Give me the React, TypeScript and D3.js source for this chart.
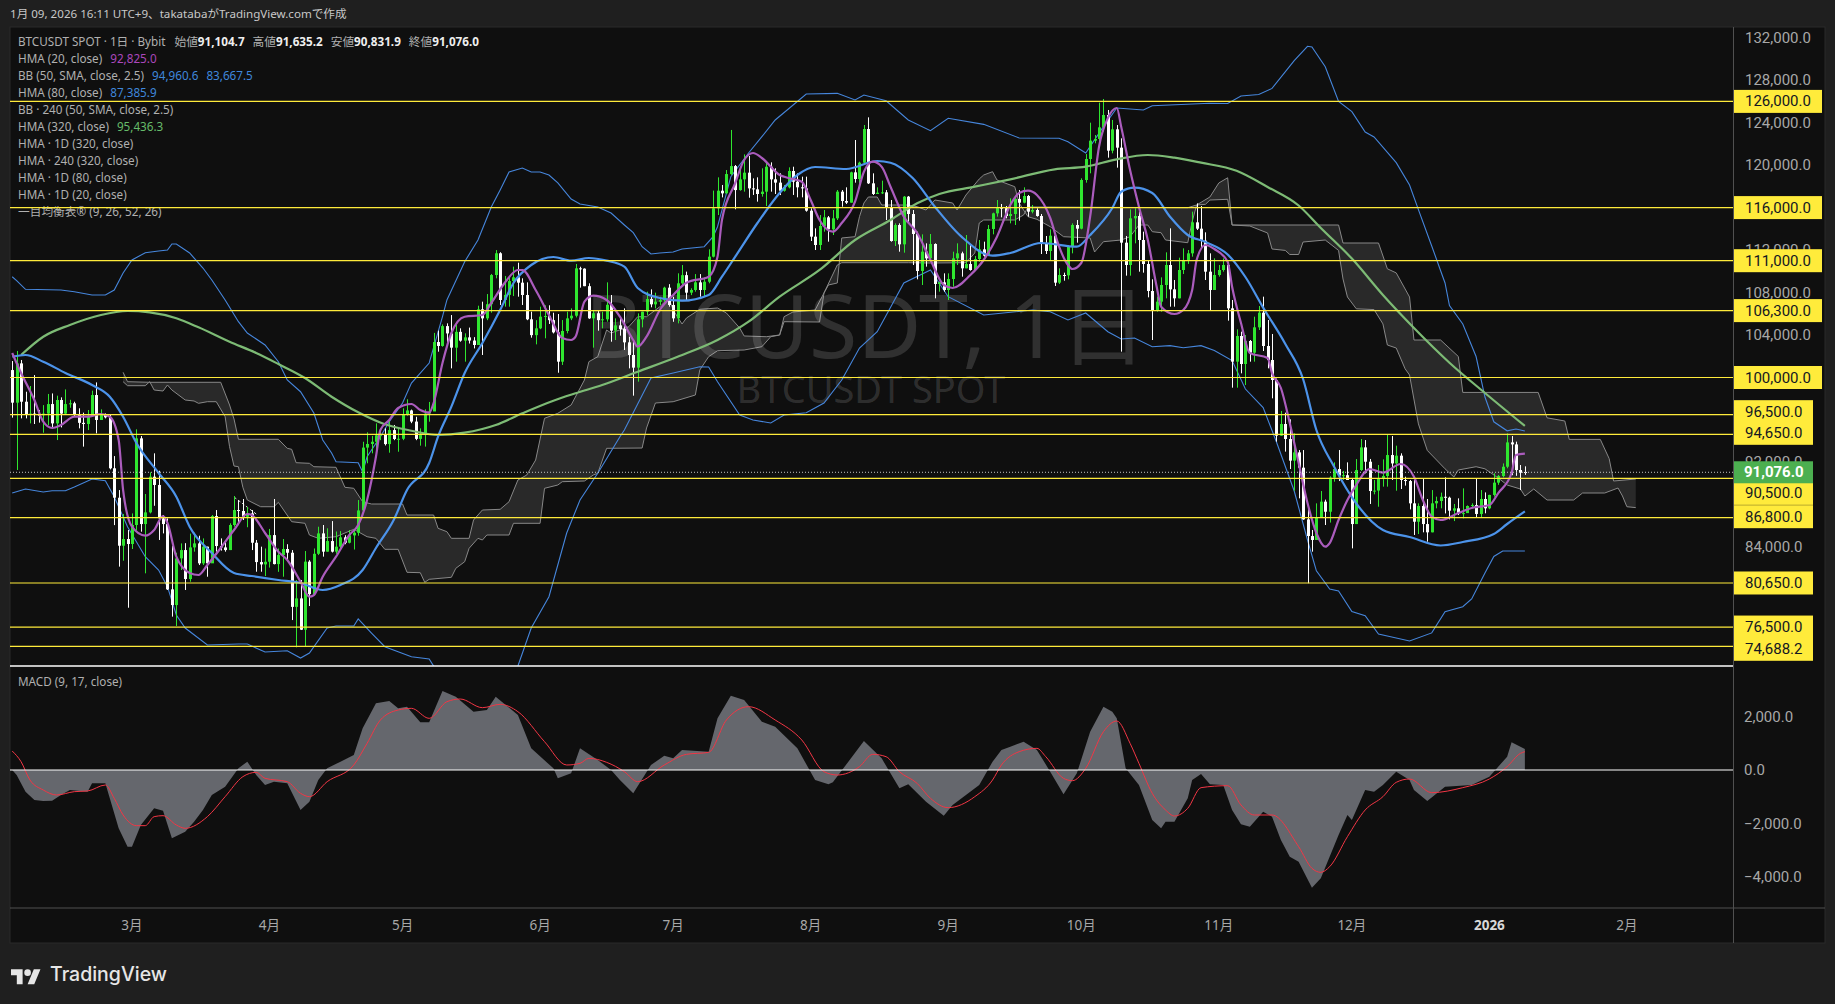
import * as d3 from "d3";
import React from "react";

// daily bars as [close, high, low]; open is the previous close
const firstOpen = 100700;
const feb25 = [
  [97630,101550,96220],[101330,102500,91290],[97720,101650,96150],[96530,98660,96150],[96600,99200,95680],[96500,100230,95620],[96450,96940,95750],
  [96600,97400,94800],[97500,98450,95500],[95680,98500,95300],[97880,98290,94110],[96600,98130,95300],[97500,98880,96470],[97570,97900,97150],
  [96470,97720,96300],[95730,97100,95210],[95620,96690,93490],[96400,96940,95050],[98350,98760,96300],[96000,99540,94740],[96500,97000,96000],
  [96250,96620,96150],[91450,96470,91350],[88680,92600,86100],[84160,89400,82190],[84790,87150,82750],[84320,85640,78320],
];
const mar25 = [
  [86110,87200,83850],[94270,95120,85600],[86200,94490,85480],[87300,89030,81560],[90660,91070,87200],[89880,92860,87920],[86740,91220,84700],
  [86200,87050,85320],[80050,86730,79990],[78570,84130,77480],[82970,83500,76600],[83750,84380,81870],[81020,84400,79990],[84000,85300,80770],
  [84380,85390,83600],[82500,85100,82340],[84070,84850,82340],[82500,84070,81240],[86950,87050,82800],[84130,87520,83600],[84000,84850,83700],
  [83750,84500,83600],[86110,86270,83750],[87520,88840,85950],[87430,88460,86100],[86890,88560,86580],[87200,87800,85900],[84440,87520,83750],
  [82620,84700,81710],[82400,84070,81710],[82650,83900,81300],
];
const apr25 = [
  [85160,85740,82100],[82430,88560,82400],[83280,83900,81700],[83850,84790,81240],[83500,84300,82800],[78400,83750,77160],[79200,80930,74590],
  [76250,80930,76220],[82660,83660,74700],[79600,82800,78480],[83400,83900,79600],[85320,85950,83280],[83600,86110,83130],[84600,85800,83600],
  [83600,86480,83520],[84070,85500,83400],[84950,85540,83820],[84440,85150,84300],[85130,85630,84380],[85380,85700,83800],[87480,88460,85100],
  [93400,93950,87480],[93740,94840,91920],[93950,94500,92860],[94560,95680,92700],[94620,95210,94100],[93730,95210,93600],[95050,95990,92920],
  [94210,95530,94100],[94230,95210,93010],
];
const may25 = [
  [96500,97100,94100],[96900,97950,96400],[95850,96980,95700],[94220,96300,94100],[94580,95210,93580],[96600,97000,93490],[96800,97700,95840],
  [103340,104200,96930],[102970,104410,102430],[104840,105000,102900],[104150,105100,102970],[102810,105880,100860],[104300,105000,101490],[103470,104630,103370],
  [103780,104160,101490],[103480,104700,103200],[103060,103800,102740],[106420,106760,103060],[105570,107140,102120],[106900,107860,105400],[109650,109750,106100],
  [111700,112000,109340],[107300,111800,106830],[107780,109560,106670],[109080,109560,106670],[109440,110440,107670],[108930,110810,107610],[107770,109340,106830],
  [105480,108960,105400],[103990,106200,103750],[104630,105400,103120],
];
const jun25 = [
  [105730,106670,104550],[105790,106800,103690],[105400,106800,105040],[104250,106100,104150],[101490,105980,100450],[104380,105410,101180],[105570,106200,104160],
  [105820,106510,105400],[110280,110690,105660],[110250,110430,108460],[108600,110280,108600],[105570,108870,105520],[106050,106300,102810],[105400,106350,104410],
  [105480,106200,104630],[106850,108960,105260],[104410,107770,103370],[104910,105570,103530],[104570,105570,103940],[103310,106510,102590],[102120,103840,100860],
  [100930,103370,98290],[105480,106040,99610],[106200,106200,104720],[107390,108080,105880],[106890,108300,106610],[107140,107990,106510],[107280,107600,106820],
  [108460,108550,107130],[106830,108790,106670],
];
const jul25 = [
  [105570,107600,105250],[108870,109810,105100],[109640,110590,108650],[107990,109970,107300],[108240,108400,107760],[108960,109740,108080],[108240,109740,107610],
  [109020,109430,107610],[111380,112070,108870],[115930,117600,111310],[117590,118850,115300],[117340,118130,116960],[119160,119540,117340],[119910,123310,119070],
  [117650,120010,115840],[118660,119540,117590],[119290,121010,117500],[117810,120860,116930],[117720,118750,117190],[117280,118850,116560],[117500,119700,117030],
  [119850,120320,116150],[118660,120260,117500],[118350,119700,117280],[117590,119230,117180],[117910,118130,117500],[119446,119790,117810],[118440,119850,117190],
  [117910,119226,116966],[117810,118912,116966],[115710,118912,115616],
];
const aug25 = [
  [113262,115930,112854],[112477,114046,112006],[114266,115300,112006],[115082,115773,113733],[113952,115208,112790],[114988,115773,113419],[117500,117656,114831],
  [116620,117656,116087],[116464,117908,116338],[119320,119383,116464],[118692,122365,118347],[120230,120325,118284],[123400,123777,120168],[118284,124500,118221],
  [117280,119226,117186],[117405,117908,117280],[117437,118535,117280],[116000,117656,114831],[112854,116715,112790],[114360,114517,112383],[112540,114517,111849],
  [117029,117090,111755],[115396,117090,114517],[113513,115773,110594],[110028,113733,109244],[111849,113481,108710],[111221,112634,110437],[112571,113513,111064],
  [108804,112634,107455],[108961,109024,108082],[108239,109809,108082],
];
const sep25 = [
  [109275,109809,107298],[111221,111849,108553],[111692,112634,110594],[110280,111849,109495],[110688,113419,110280],[110123,112477,110060],[111158,111441,110060],
  [112069,112948,110907],[111472,112791,111378],[113984,114360,111535],[115459,115522,113482],[115993,116715,115145],[115950,116338,115082],[115208,116150,114988],
  [115396,116872,114517],[116809,116966,114360],[116464,117656,114769],[117091,117908,116401],[115616,117186,115145],[115773,116244,115459],[115209,115930,115146],
  [112572,115397,111630],[111913,113325,111630],[113357,113953,111065],[108931,113420,108617],[109653,110280,108805],[109621,109872,109119],[112321,112478,109244],
  [114361,114518,111693],[114016,114832,112697],
];
const oct25 = [
  [118599,118756,113953],[120576,121047,118348],[122303,123998,119227],[122460,122836,122052],[123558,125881,122208],[124720,126226,123150],[121361,125191,120702],
  [123370,124249,121110],[121644,123778,119760],[112697,122522,102433],[110594,113325,109590],[114989,115837,109590],[115209,115930,112635],[112949,115617,109966],
  [110688,113733,109872],[108146,111065,107549],[106357,109245,103531],[107141,107612,106200],[108711,109433,106200],[110594,111787,107455],[108303,114047,106670],
  [107455,109182,106670],[110123,111285,107455],[110971,112164,109747],[111693,112007,110700],[114612,115617,111379],[114016,116401,113890],[112886,116150,112164],
  [109966,113671,109182],[108240,111693,106357],[109653,111222,108240],
];
const nov25 = [
  [110123,110594,109496],[110594,111222,109966],[106514,110814,105352],[101491,107298,99043],[103908,104536,99043],[101271,104316,100392],[103437,104002,99294],
  [102339,103531,101491],[104724,105729,101491],[106106,106733,104473],[102966,107612,102496],[101648,105415,100864],[99765,104097,98038],[94520,99900,93958],
  [95620,96850,94500],[94210,96690,93020],[92170,96060,91380],[92950,94740,89340],[91510,93170,88620],[86640,93170,86600],[85070,87700,80620],
  [84700,85640,83600],[86830,88150,84700],[88310,89310,86830],[87360,88500,86110],[90570,90700,86340],[91380,92010,90190],[90760,93170,90250],
  [90800,91200,90350],[90350,92010,90350],
];
const dec25 = [
  [86200,90500,83910],[91290,92320,86200],[93420,94210,91200],[92070,94110,90970],[89310,92330,88090],[89350,90350,89000],[90500,91760,87830],
  [90720,92290,89720],[92700,94590,89720],[91910,94490,90350],[92640,93580,89340],[90350,92860,89500],[90250,90660,89820],[88150,90350,87580],
  [86420,90350,85170],[87900,88150,85260],[86200,90440,85420],[85420,88560,84540],[88150,89400,85420],[88370,88780,87680],[88770,89160,87680],
  [88680,90600,87200],[87460,88780,86640],[87680,88090,86480],[87210,88620,87050],[87230,89560,86730],[87900,87960,87410],[87990,88150,87680],
  [87150,90440,86830],[88560,89400,86830],[87680,89180,87210],
];
const jan26 = [
  [88940,88960,87590],[90100,90980,88780],[90720,90820,89890],[91600,91910,90600],[93890,94740,91450],[93700,94490,90800],[91290,93960,90740],
  [91030,91760,89400],[91076,91635.2,90831.9],
];

// indicator lines as [bar, value], read at the turning points
const bbUpper = [
  [0,109490],[1,109115],[3,108305],[11,108240],[14,108080],[18,107770],[21,107770],[23,108240],[25,109840],[27,111065],[30,111750],[33,111910],[35,112000],[36,112570],[37,112570],
  [40,111725],[43,110310],[45,109180],[48,107300],[51,105255],[53,104190],[57,103060],[60,101490],[62,99765],[65,98660],[68,96660],[70,94115],[72,92890],[73,92070],[78,91980],[79,91100],
  [80,92540],[83,94425],[85,95840],[88,97600],[90,99480],[94,101365],[97,105725],[98,107300],[102,110905],[105,112950],[108,116055],[110,117660],[112,119350],[115,119730],[117,119350],
  [119,119350],[121,119070],[123,118320],[126,116810],[128,116340],[132,116055],[135,115490],[138,114360],[140,113635],[142,112320],[144,111630],[146,111725],[149,111820],[151,112100],
  [156,112320],[158,113260],[159,114200],[160,115770],[162,118910],[166,121140],[169,122675],[172,124250],[179,126700],[186,126760],[190,126130],[192,126600],[197,126065],[202,124250],
  [207,123240],[211,124410],[219,123840],[227,122555],[236,122525],[238,122205],[242,121140],[246,123620],[249,125380],[255,125190],[257,125595],[270,125820],[274,125800],[277,126510],
  [281,126650],[284,127225],[289,129840],[292,131190],[293,131120],[296,129268],[299,126000],[302,125040],[305,123120],[307,122650],[312,120230],[315,118130],[317,115810],[320,112384],
  [323,108900],[324,106780],[327,105038],[330,101977],[332,98164],[334,95829],[337,94980],[339,95150],[341,94960.6],
];
const bbLower = [
  [0,89123],[3,89500],[7,89218],[9,89340],[12,89340],[14,89690],[18,90440],[21,90280],[23,88775],[26,85950],[30,83125],[33,81870],[35,80300],[37,77635],[39,76410],[44,74810],[51,74905],
  [53,74905],[57,74150],[62,74270],[65,73585],[67,74055],[71,76410],[73,76600],[77,76600],[78,77260],[81,75940],[84,74650],[90,73710],[94,73490],[95,72830],[102,70500],[110,70500],
  [114,72830],[117,76410],[121,79357],[125,85357],[128,88464],[132,90990],[137,94425],[138,95056],[144,99953],[149,100423],[155,101017],[157,100989],[159,99605],[164,96468],[167,95998],
  [171,95716],[174,96468],[179,96686],[183,97600],[187,99765],[191,102778],[195,104314],[201,108900],[207,110124],[211,107609],[219,105885],[230,106356],[234,106197],[238,105415],
  [242,106074],[247,104314],[250,103625],[253,103719],[257,102900],[261,103000],[264,102807],[268,103000],[271,102552],[275,101590],[278,98916],[282,97166],[285,93926],[289,89312],
  [292,84697],[294,81796],[297,80083],[299,79895],[302,77955],[305,77570],[308,75846],[315,75186],[320,75949],[323,77955],[327,78416],[329,79141],[332,81600],[334,83143],[336,83661],[341,83667.5],
];
const hma20 = [
  [0,102307],[2,100425],[5,97881],[7,95838],[9,95244],[11,95527],[14,96308],[17,96308],[20,96562],[22,96308],[24,94115],[25,89406],[27,85950],[30,85103],[32,85639],[34,86957],[35,86298],
  [37,83125],[40,81590],[42,81401],[44,82344],[47,83944],[50,85639],[53,87146],[54,87052],[57,85357],[60,83597],[62,82813],[65,80769],[67,79357],[68,79516],[70,81240],[73,83125],[76,85168],
  [78,86106],[80,88464],[82,92542],[83,95056],[85,95998],[87,97128],[90,97505],[92,96940],[94,96686],[95,97600],[97,101365],[99,104190],[102,105725],[106,105885],[108,107015],[111,108900],
  [114,110124],[115,110124],[118,108240],[121,105885],[124,103719],[126,103531],[127,103842],[129,107138],[131,107703],[134,107298],[137,105725],[140,103531],[141,102900],[143,103842],
  [146,106356],[149,107769],[152,108928],[157,109493],[159,111376],[160,114832],[163,118316],[165,120482],[167,121140],[169,120670],[173,119070],[175,118787],[178,118440],[180,116715],
  [182,114832],[185,113730],[187,114549],[190,116555],[192,119380],[194,120321],[196,119851],[198,117968],[201,115142],[204,113607],[207,111065],[210,108711],[212,108428],[216,109652],
  [219,111065],[222,113260],[225,116244],[227,117375],[229,117591],[231,117187],[234,115020],[236,112317],[238,110594],[239,110217],[241,110782],[243,115142],[245,121735],[247,124437],
  [249,125379],[250,123618],[252,119540],[254,116085],[256,112948],[258,108551],[259,106667],[262,105980],[264,106356],[266,108240],[267,111065],[269,112477],[271,112100],[274,110905],
  [275,108551],[277,105132],[279,102307],[283,101836],[284,100423],[286,99012],[288,95715],[290,91948],[292,88181],[294,85357],[296,84067],[297,84414],[299,86583],[301,88464],[303,89890],
  [306,91384],[309,91036],[313,91853],[316,90659],[318,88464],[320,86892],[322,86583],[326,87239],[329,87710],[333,87993],[335,89118],[338,91006],[339,92702],[341,92825],
];
const hma80 = [
  [0,101959],[3,102119],[7,101488],[12,100423],[18,99293],[22,98191],[25,96308],[28,93832],[33,91007],[37,88775],[40,85950],[45,83473],[50,81590],[54,81307],[60,80930],[65,80648],[70,79989],
  [74,80460],[79,81872],[82,83944],[86,86581],[89,89406],[94,91948],[96,94425],[99,97251],[102,100423],[106,103244],[110,106356],[113,108900],[117,110594],[122,111348],[126,111000],[130,111254],
  [134,111000],[138,110434],[141,108428],[146,107486],[151,107232],[157,107769],[160,109492],[163,111376],[168,114549],[173,117375],[177,119070],[181,119823],[188,119634],[195,120388],
  [198,120228],[203,118787],[208,116085],[214,113260],[221,111470],[225,111725],[232,112666],[240,112317],[243,113419],[248,115962],[250,117497],[253,117874],[257,117375],[261,115142],
  [265,113419],[269,112760],[274,111583],[278,109464],[282,106582],[287,103155],[291,99858],[294,95055],[298,91600],[303,88135],[309,85639],[315,84980],[322,84180],[327,84510],[334,85262],
  [337,86204],[341,87385.9],
];
const hma320 = [
  [2,102119],[7,103841],[13,104944],[20,105885],[26,106262],[31,106140],[37,105576],[42,104727],[49,103371],[55,102307],[60,101272],[66,99953],[72,98192],[78,96722],[84,95593],[90,94990],
  [96,94585],[102,94802],[109,95527],[115,96629],[122,97816],[127,98512],[133,99293],[141,100546],[150,101958],[159,103531],[166,105255],[173,107609],[182,110124],[190,112948],[198,114832],
  [204,116404],[209,117280],[217,117968],[225,118664],[235,119607],[242,119850],[249,120548],[256,120953],[262,120698],[268,120228],[276,119465],[283,117939],[290,116197],[295,114079],
  [302,111197],[309,107769],[316,104661],[324,101394],[332,98541],[341,95436.3],
];
const cloudA = [
  [25,100490],[26,99605],[31,99549],[47,99549],[49,97411],[50,96092],[51,94180],[60,94180],[62,93333],[63,93238],[64,91977],[67,91921],[68,91600],[73,91543],[75,89660],[77,89566],[79,88304],
  [81,88087],[88,88087],[89,87051],[95,87051],[96,85799],[98,85479],[99,84857],[103,84857],[104,86581],[106,87523],[110,87589],[112,88304],[114,90347],[116,90818],[118,92230],[120,96158],
  [123,96629],[126,97411],[129,99765],[130,101488],[132,101959],[134,104474],[135,104190],[139,104783],[141,105725],[143,105725],[146,106667],[148,107486],[149,106356],[151,105038],[152,105603],
  [155,106422],[159,106545],[161,106075],[164,104660],[165,103910],[170,103842],[173,104000],[174,105725],[176,106168],[181,106356],[183,107958],[184,108711],[186,108900],[187,113137],[190,113260],
  [191,115142],[192,116432],[193,116998],[195,116998],[196,116244],[202,116244],[204,116085],[206,115773],[208,116715],[212,116432],[213,115773],[215,117186],[218,118692],[219,119069],[221,119380],
  [222,118598],[226,117968],[227,116432],[228,115773],[229,115142],[231,114897],[234,114201],[237,113260],[243,113137],[244,111818],[246,112788],[250,112948],[252,113260],[254,114360],[256,114360],
  [257,113730],[259,113635],[260,112948],[265,112693],[266,114672],[267,116244],[269,116310],[270,116715],[274,116780],[275,114360],[279,114266],[283,113608],[284,112100],[287,111968],[288,111583],
  [290,111583],[291,112760],[296,112948],[299,111968],[300,109276],[301,107581],[303,106470],[307,106395],[309,105048],[310,103061],[312,102778],[314,100820],[315,100235],[317,95630],[319,93134],
  [323,91402],[325,90630],[326,91290],[330,91600],[332,91402],[335,90536],[337,89877],[340,89500],[341,88841],[343,89500],[346,88464],[352,88464],[354,89123],[359,89123],[362,89594],[363,88841],
  [364,87832],[366,87747],
];
const cloudB = [
  [25,99605],[26,99228],[30,99228],[31,99605],[32,98823],[34,98729],[35,99293],[36,98823],[39,97881],[41,97787],[42,97570],[44,97722],[46,97722],[48,96308],[49,93483],[50,91666],[51,91600],
  [52,89660],[53,88464],[56,87832],[59,87832],[60,88248],[63,86422],[66,86271],[67,85168],[69,84857],[73,85008],[77,85705],[80,85008],[82,84857],[84,83821],[87,83821],[89,81656],[92,81618],
  [93,80714],[94,80997],[99,81185],[100,82032],[102,82654],[103,83916],[105,84857],[106,84697],[107,85168],[112,85168],[113,86270],[119,86270],[120,89566],[123,89876],[124,90188],[129,90254],
  [131,90819],[132,90980],[134,93332],[142,93360],[143,95245],[145,97600],[149,97720],[154,98352],[155,100706],[157,101959],[159,102524],[165,102590],[169,102900],[171,103842],[173,104000],
  [174,105255],[182,105226],[183,107958],[186,110594],[187,110811],[202,110811],[207,110782],[215,110811],[217,111725],[218,114549],[219,114832],[226,114832],[228,115303],[229,116056],[265,115990],
  [267,116244],[270,116998],[272,118316],[274,118806],[275,114360],[299,114360],[300,112665],[308,112665],[310,110236],[312,109850],[315,107581],[316,103531],[322,103531],[326,101977],[327,98596],
  [344,98596],[346,96204],[350,95904],[351,94171],[358,94171],[360,92363],[361,90253],[366,90442],
];
const macdHist = [
  [0,0],[1,-187],[3,-810],[5,-1121],[7,-1159],[9,-1146],[11,-934],[13,-748],[17,-810],[18,-498],[21,-498],[22,-1059],[24,-2180],[26,-2866],[27,-2866],[29,-2056],[32,-1433],[34,-1520],[36,-2554],
  [39,-2305],[41,-1931],[43,-1495],[45,-934],[48,-623],[51,62],[53,311],[55,-187],[57,-561],[59,-436],[62,-498],[65,-1495],[67,-1184],[69,-374],[71,62],[74,311],[77,561],[79,1558],[82,2492],
  [85,2579],[87,2305],[89,2367],[92,1782],[94,1782],[97,2953],[100,2741],[104,2181],[107,2243],[109,2741],[114,2056],[117,810],[122,62],[123,-312],[126,-125],[128,810],[132,374],[135,0],[137,-374],
  [140,-872],[144,187],[147,536],[149,436],[151,748],[157,685],[159,1931],[162,2779],[165,2617],[169,1807],[172,1620],[177,810],[181,-374],[184,-536],[185,-461],[192,1084],[196,436],[200,-685],
  [202,-536],[206,-1184],[210,-1707],[212,-1308],[215,-934],[218,-561],[221,311],[223,748],[225,872],[228,1059],[231,748],[234,-62],[237,-910],[240,-125],[243,1433],[246,2367],[248,2181],[249,1931],
  [251,62],[254,-561],[257,-1869],[259,-2180],[260,-1931],[262,-1931],[265,-1059],[266,-374],[268,-150],[270,-536],[273,-561],[275,-1495],[277,-2031],[279,-2118],[282,-1558],[284,-1744],[286,-2617],
  [288,-3240],[290,-3427],[293,-4398],[295,-4050],[299,-2430],[301,-1682],[302,-1869],[305,-748],[307,-810],[309,-561],[312,-62],[315,-374],[316,-748],[319,-1159],[323,-623],[329,-561],[333,-249],
  [337,498],[338,1034],[341,785],
];
const macdSignal = [
  [0,710],[2,311],[4,-374],[7,-748],[10,-934],[14,-810],[17,-785],[21,-561],[23,-1059],[25,-1682],[28,-2081],[30,-2081],[32,-1744],[34,-1707],[37,-2056],[39,-2180],[44,-1744],[48,-997],[52,-249],
  [55,-87],[57,-311],[62,-436],[65,-872],[67,-997],[71,-436],[77,187],[80,997],[83,1869],[87,2243],[90,2305],[94,1931],[98,2554],[101,2654],[106,2330],[110,2455],[114,2181],[120,1059],[125,187],
  [128,249],[130,436],[134,287],[138,-62],[141,-436],[147,187],[152,586],[157,660],[161,1869],[166,2367],[172,1869],[178,1121],[183,-62],[186,-187],[191,125],[194,586],[197,498],[200,-62],[204,-500],
  [207,-1059],[211,-1408],[217,-997],[221,-374],[223,187],[227,685],[231,810],[233,498],[237,-312],[239,-399],[242,62],[246,1433],[249,1832],[252,997],[254,249],[257,-872],[260,-1495],[262,-1720],
  [265,-1433],[268,-660],[274,-586],[277,-1308],[280,-1682],[284,-1682],[290,-2866],[293,-3676],[295,-3825],[297,-3613],[301,-2492],[305,-1495],[309,-997],[312,-461],[315,-336],[320,-847],[327,-660],
  [333,-336],[337,125],[340,623],[341,685],
];
const trendNote = [[50,88746],[55,87146]];

const levels = [126000,116000,111000,106300,100000,96500,94650,90500,86800,80650,76500,74688.2];
const levelNudge = [0,0,0,0,0,-3,-1,15,-1,0,0,3];
// the ticks that sit fully behind a level label are not visible
const hiddenTicks = [116000,100000,96000,88000,80000,76000];
const priceTicks = d3.range(132000, 83000, -4000).filter((t) => !hiddenTicks.includes(t));
const macdTicks = [2000,0,-2000,-4000];
const lastPrice = 91076;
const monthTicks = [["3月","2025-03-01"],["4月","2025-04-01"],["5月","2025-05-01"],["6月","2025-06-01"],["7月","2025-07-01"],["8月","2025-08-01"],["9月","2025-09-01"],["10月","2025-10-01"],["11月","2025-11-01"],["12月","2025-12-01"],["2026","2026-01-01"],["2月","2026-02-01"]];
const startDay = new Date("2025-02-02");

const legendRows = [
  ["HMA (20, close)", ["92,825.0"], "#ab47bc"],
  ["BB (50, SMA, close, 2.5)", ["94,960.6", "83,667.5"], "#3f87dc"],
  ["HMA (80, close)", ["87,385.9"], "#3f87dc"],
  ["BB · 240 (50, SMA, close, 2.5)", [], ""],
  ["HMA (320, close)", ["95,436.3"], "#66bb6a"],
  ["HMA · 1D (320, close)", [], ""],
  ["HMA · 240 (320, close)", [], ""],
  ["HMA · 1D (80, close)", [], ""],
  ["HMA · 1D (20, close)", [], ""],
  ["一目均衡表® (9, 26, 52, 26)", [], ""],
];
const ohlcRow = [["始値","91,104.7"],["高値","91,635.2"],["安値","90,831.9"],["終値","91,076.0"]];

const uiFont = "'Noto Sans', 'Noto Sans CJK JP', sans-serif";

export default function App() {
  const W = 1835, H = 1004;
  const left = 10, axisX = 1733, right = 1825, top = 27, paneEnd = 666, macdEnd = 908, bottom = 943;

  const x = d3.scaleLinear().domain([0, 1]).range([12.2, 16.636]);
  const y = d3.scaleLinear().domain([126000, 74688.2]).range([101.4, 646.3]);
  const yM = d3.scaleLinear().domain([2000, -4000]).range([716.5, 877]);

  const closes = [...feb25, ...mar25, ...apr25, ...may25, ...jun25, ...jul25, ...aug25, ...sep25, ...oct25, ...nov25, ...dec25, ...jan26];
  const candles = closes.map((d, i) => ({
    i,
    open: i ? closes[i - 1][0] : firstOpen,
    close: d[0],
    high: d[1],
    low: d[2],
  }));
  candles[candles.length - 1].open = 91104.7;

  const smooth = d3.line<number[]>().x((d) => x(d[0])).y((d) => y(d[1])).curve(d3.curveMonotoneX);
  const straight = d3.line<number[]>().x((d) => x(d[0])).y((d) => y(d[1]));
  const cloudShape = straight([...cloudA, ...[...cloudB].reverse()]) + "Z";
  const histArea = d3.area<number[]>().x((d) => x(d[0])).y0(yM(0)).y1((d) => yM(d[1]));
  const signalLine = d3.line<number[]>().x((d) => x(d[0])).y((d) => yM(d[1])).curve(d3.curveMonotoneX);

  return (
    <svg width={W} height={H} style={{ position: "absolute", left: 0, top: 0, display: "block" }} fontFamily={uiFont}>
      <defs>
        <clipPath id="mainClip"><rect x={left} y={top} width={axisX - left} height={paneEnd - top} /></clipPath>
        <clipPath id="macdClip"><rect x={left} y={paneEnd} width={axisX - left} height={macdEnd - paneEnd} /></clipPath>
      </defs>
      <rect width={W} height={H} fill="#1f1f1f" />
      <rect x={left} y={top} width={right - left} height={bottom - top} fill="#0f0f0f" stroke="#2a2a2a" />
      <text x={10} y={18} fontSize={11.6} fill="#c8c8c8">1月 09, 2026 16:11 UTC+9、takatabaがTradingView.comで作成</text>

      <g clipPath="url(#mainClip)">
        <path d={cloudShape} fill="#292929" />
        <path d={straight(cloudA)!} fill="none" stroke="#888888" strokeWidth={1} />
        <path d={straight(cloudB)!} fill="none" stroke="#888888" strokeWidth={1} />

        {/* watermark */}
        <text x={866} y={358} textAnchor="middle" fontSize={88} fill="#ffffff" fillOpacity={0.14}>BTCUSDT, 1日</text>
        <text x={871} y={403} textAnchor="middle" fontSize={38} fill="#ffffff" fillOpacity={0.14}>BTCUSDT SPOT</text>

        <path d={straight(trendNote)!} fill="none" stroke="#dddddd" strokeWidth={1} strokeDasharray="3 2" />

        <path d={straight(bbUpper)!} fill="none" stroke="#4686dc" strokeWidth={1.1} />
        <path d={straight(bbLower)!} fill="none" stroke="#4686dc" strokeWidth={1.1} />

        {candles.map((c) => {
          const col = c.close >= c.open ? "#2fe62f" : "#ffffff";
          const cx = Math.round(x(c.i));
          const yo = y(c.open), yc = y(c.close);
          return (
            <g key={c.i}>
              <line x1={cx + 0.5} x2={cx + 0.5} y1={y(c.high)} y2={y(c.low)} stroke={col} strokeWidth={1} />
              <rect x={cx - 1} y={Math.min(yo, yc)} width={3} height={Math.max(1, Math.abs(yo - yc))} fill={col} />
            </g>
          );
        })}

        <path d={smooth(hma320)!} fill="none" stroke="#7dbb75" strokeWidth={2.2} />
        <path d={smooth(hma80)!} fill="none" stroke="#4c93ea" strokeWidth={2.2} />
        <path d={smooth(hma20)!} fill="none" stroke="#ab5cbd" strokeWidth={2.2} />
      </g>

      {/* legend */}
      <g fontSize={11.7} fill="#b0b0b0">
        <text x={18} y={46}>
          BTCUSDT SPOT · 1日 · Bybit
          {ohlcRow.map(([k, v], i) => (
            <tspan key={k} dx={i === 0 ? 9 : 8}>{k}<tspan fill="#eeeeee" fontWeight={700}>{v}</tspan></tspan>
          ))}
        </text>
        {legendRows.map(([name, vals, col], r) => (
          <text key={name as string} x={18} y={63 + r * 17}>
            {name as string}
            {(vals as string[]).map((v, j) => (
              <tspan key={v} dx={8} fill={col as string}>{v}</tspan>
            ))}
          </text>
        ))}
      </g>

      <g clipPath="url(#mainClip)">
        <line x1={left} x2={axisX} y1={y(lastPrice)} y2={y(lastPrice)} stroke="#c8c8c8" strokeWidth={1} strokeDasharray="1 2" />
        {levels.map((l) => (
          <line key={l} x1={left} x2={axisX} y1={y(l)} y2={y(l)} stroke="#ffeb3b" strokeWidth={1.2} />
        ))}
      </g>

      {/* macd pane */}
      <line x1={left} x2={axisX} y1={paneEnd} y2={paneEnd} stroke="#ffffff" strokeWidth={1.5} />
      <text x={18} y={686} fontSize={11.7} fill="#b0b0b0">MACD (9, 17, close)</text>
      <g clipPath="url(#macdClip)">
        <path d={histArea(macdHist)!} fill="#65676d" />
        <path d={signalLine(macdSignal)!} fill="none" stroke="#f23645" strokeWidth={1} />
        <line x1={left} x2={axisX} y1={yM(0)} y2={yM(0)} stroke="#ffffff" strokeWidth={1.2} />
      </g>

      {/* axes */}
      <line x1={axisX + 0.5} x2={axisX + 0.5} y1={top} y2={bottom} stroke="#505050" />
      <line x1={left} x2={right} y1={macdEnd} y2={macdEnd} stroke="#505050" />
      <g fontSize={15} fill="#a8a8a8" fontFamily="Roboto, sans-serif">
        {priceTicks.map((t) => (
          <text key={t} x={1745} y={y(t) + 5}>{d3.format(",.1f")(t)}</text>
        ))}
        {macdTicks.map((t) => (
          <text key={t} x={1744} y={yM(t) + 5}>{d3.format(",.1f")(t).replace("-", "−")}</text>
        ))}
      </g>
      <g fontFamily="Roboto, sans-serif" fontSize={15}>
        {levels.map((l, i) => {
          const ly = y(l) + levelNudge[i];
          const boxW = l >= 100000 ? 88 : 79;
          return (
            <g key={l}>
              <rect x={axisX + 1} y={ly - 11.5} width={boxW} height={23} fill="#ffeb3b" />
              <text x={1745} y={ly + 5} fill="#131722">{d3.format(",.1f")(l)}</text>
            </g>
          );
        })}
        <rect x={axisX + 1} y={y(lastPrice) - 11} width={79} height={22} fill="#4caf50" />
        <text x={1744} y={y(lastPrice) + 5} fill="#ffffff" fontWeight={700}>{d3.format(",.1f")(lastPrice)}</text>
      </g>
      <g fontSize={13.5} fill="#a8a8a8" textAnchor="middle">
        {monthTicks.map(([label, date]) => (
          <text key={label} x={x(d3.utcDay.count(startDay, new Date(date)))} y={930} fontWeight={label === "2026" ? 700 : 400} fill={label === "2026" ? "#d8d8d8" : "#a8a8a8"}>{label}</text>
        ))}
      </g>

      {/* brand */}
      <g transform="translate(11,966) scale(0.83)" fill="#e6e6e6">
        <path d="M14 22H7V11H0V4h14v18zM28 22h-8l7.5-18h8L28 22z" />
        <circle cx={20} cy={8} r={4} />
      </g>
      <text x={50} y={981} fontSize={19.5} fontWeight={500} fill="#e6e6e6" fontFamily="Inter, sans-serif">TradingView</text>
    </svg>
  );
}
